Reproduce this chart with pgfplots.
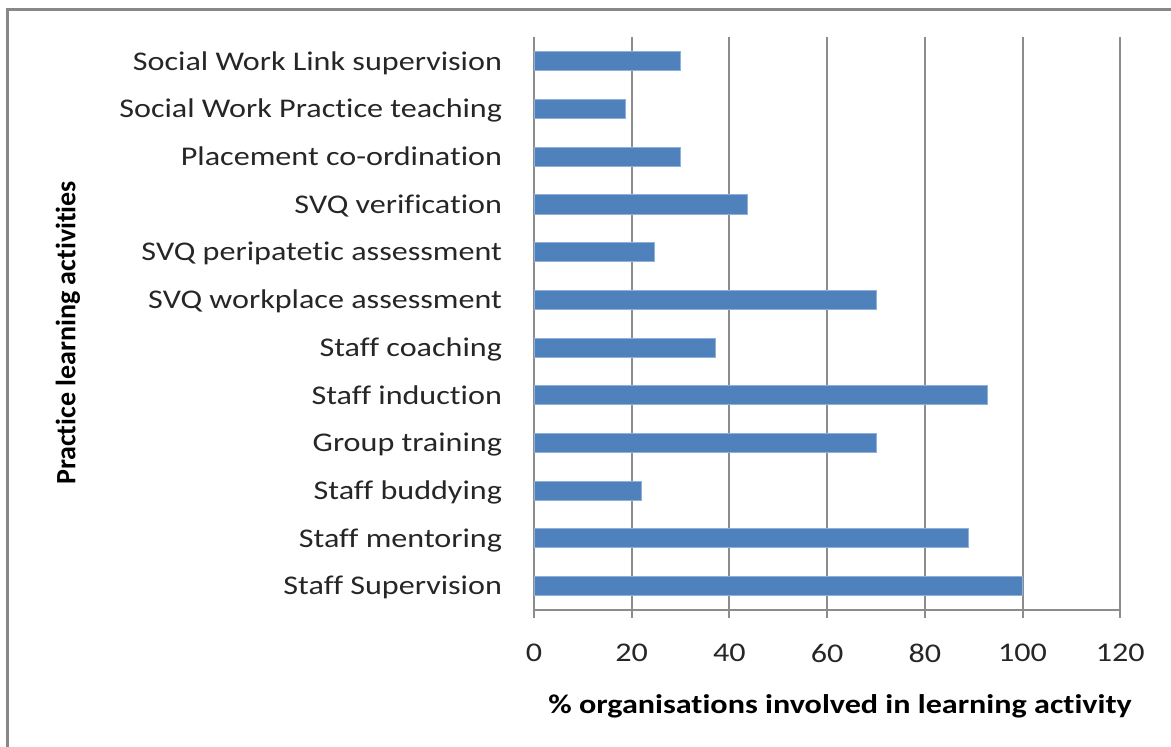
\documentclass[border=0pt]{standalone}
\usepackage{pgfplots}
\pgfplotsset{compat=1.18}
\usepackage{fontspec}
\setmainfont{Carlito}[FakeStretch=1.19, Ligatures={NoCommon}]
\newfontfamily\plainfont{Carlito}[Ligatures={NoCommon}]
\definecolor{barblue}{HTML}{4F81BD}
\definecolor{baredge}{HTML}{8FB0D8}
\definecolor{gridgray}{HTML}{8C8C8C}
\definecolor{framegray}{HTML}{888888}
\begin{document}
\begin{tikzpicture}
\useasboundingbox (0,0) rectangle (585.5bp,373.5bp);
\draw[framegray, line width=1.5bp] (3.85bp,-20bp) |- (620bp,368.75bp);
\begin{axis}[
  at={(267bp,68.5bp)}, anchor=south west,
  scale only axis, width=293.15bp, height=286.25bp,
  xbar, bar width=0.4,
  xmin=0, xmax=120, ymin=-0.5, ymax=11.5,
  xtick={0,20,...,120},
  ytick={0,...,11},
  yticklabels={Staff Supervision, Staff mentoring, Staff buddying, Group training, Staff induction, Staff coaching, SVQ workplace assessment, SVQ peripatetic assessment, SVQ verification, Placement co-ordination, Social Work Practice teaching, Social Work Link supervision},
  axis x line*=bottom, axis y line*=left,
  axis line style={gridgray, line width=1bp, -},
  xmajorgrids, major grid style={gridgray, line width=1bp},
  x tick style={gridgray, line width=1bp}, major tick length=4bp, tick align=outside,
  y tick style={draw=none},
  /pgf/number format/assume math mode=true,
  ticklabel style={font=\fontsize{13.5bp}{16bp}\selectfont, text=black!85},
  xticklabel style={inner sep=0pt, anchor=north, yshift=-12.9bp},
  yticklabel style={inner sep=0pt, anchor=east, xshift=-11.8bp, text height=8.7bp, text depth=0pt},
  xlabel={\% organisations involved in learning activity},
  xlabel style={font=\fontsize{13.5bp}{16bp}\selectfont\bfseries, at={(axis description cs:0.522,-0.18)}, anchor=base, inner sep=0pt},
  ylabel={Practice learning activities},
  ylabel style={font=\plainfont\fontsize{14bp}{16bp}\selectfont\bfseries, at={(axis description cs:-0.795,0.484)}, anchor=center, inner sep=0pt},
]
\addplot[fill=barblue, draw=baredge, line width=0.5bp] coordinates {
  (100,0) (88.9,1) (22,2) (70,3) (92.8,4) (37.2,5) (70,6) (24.7,7) (43.7,8) (30,9) (18.8,10) (30,11)
};
\end{axis}
\end{tikzpicture}
\end{document}
